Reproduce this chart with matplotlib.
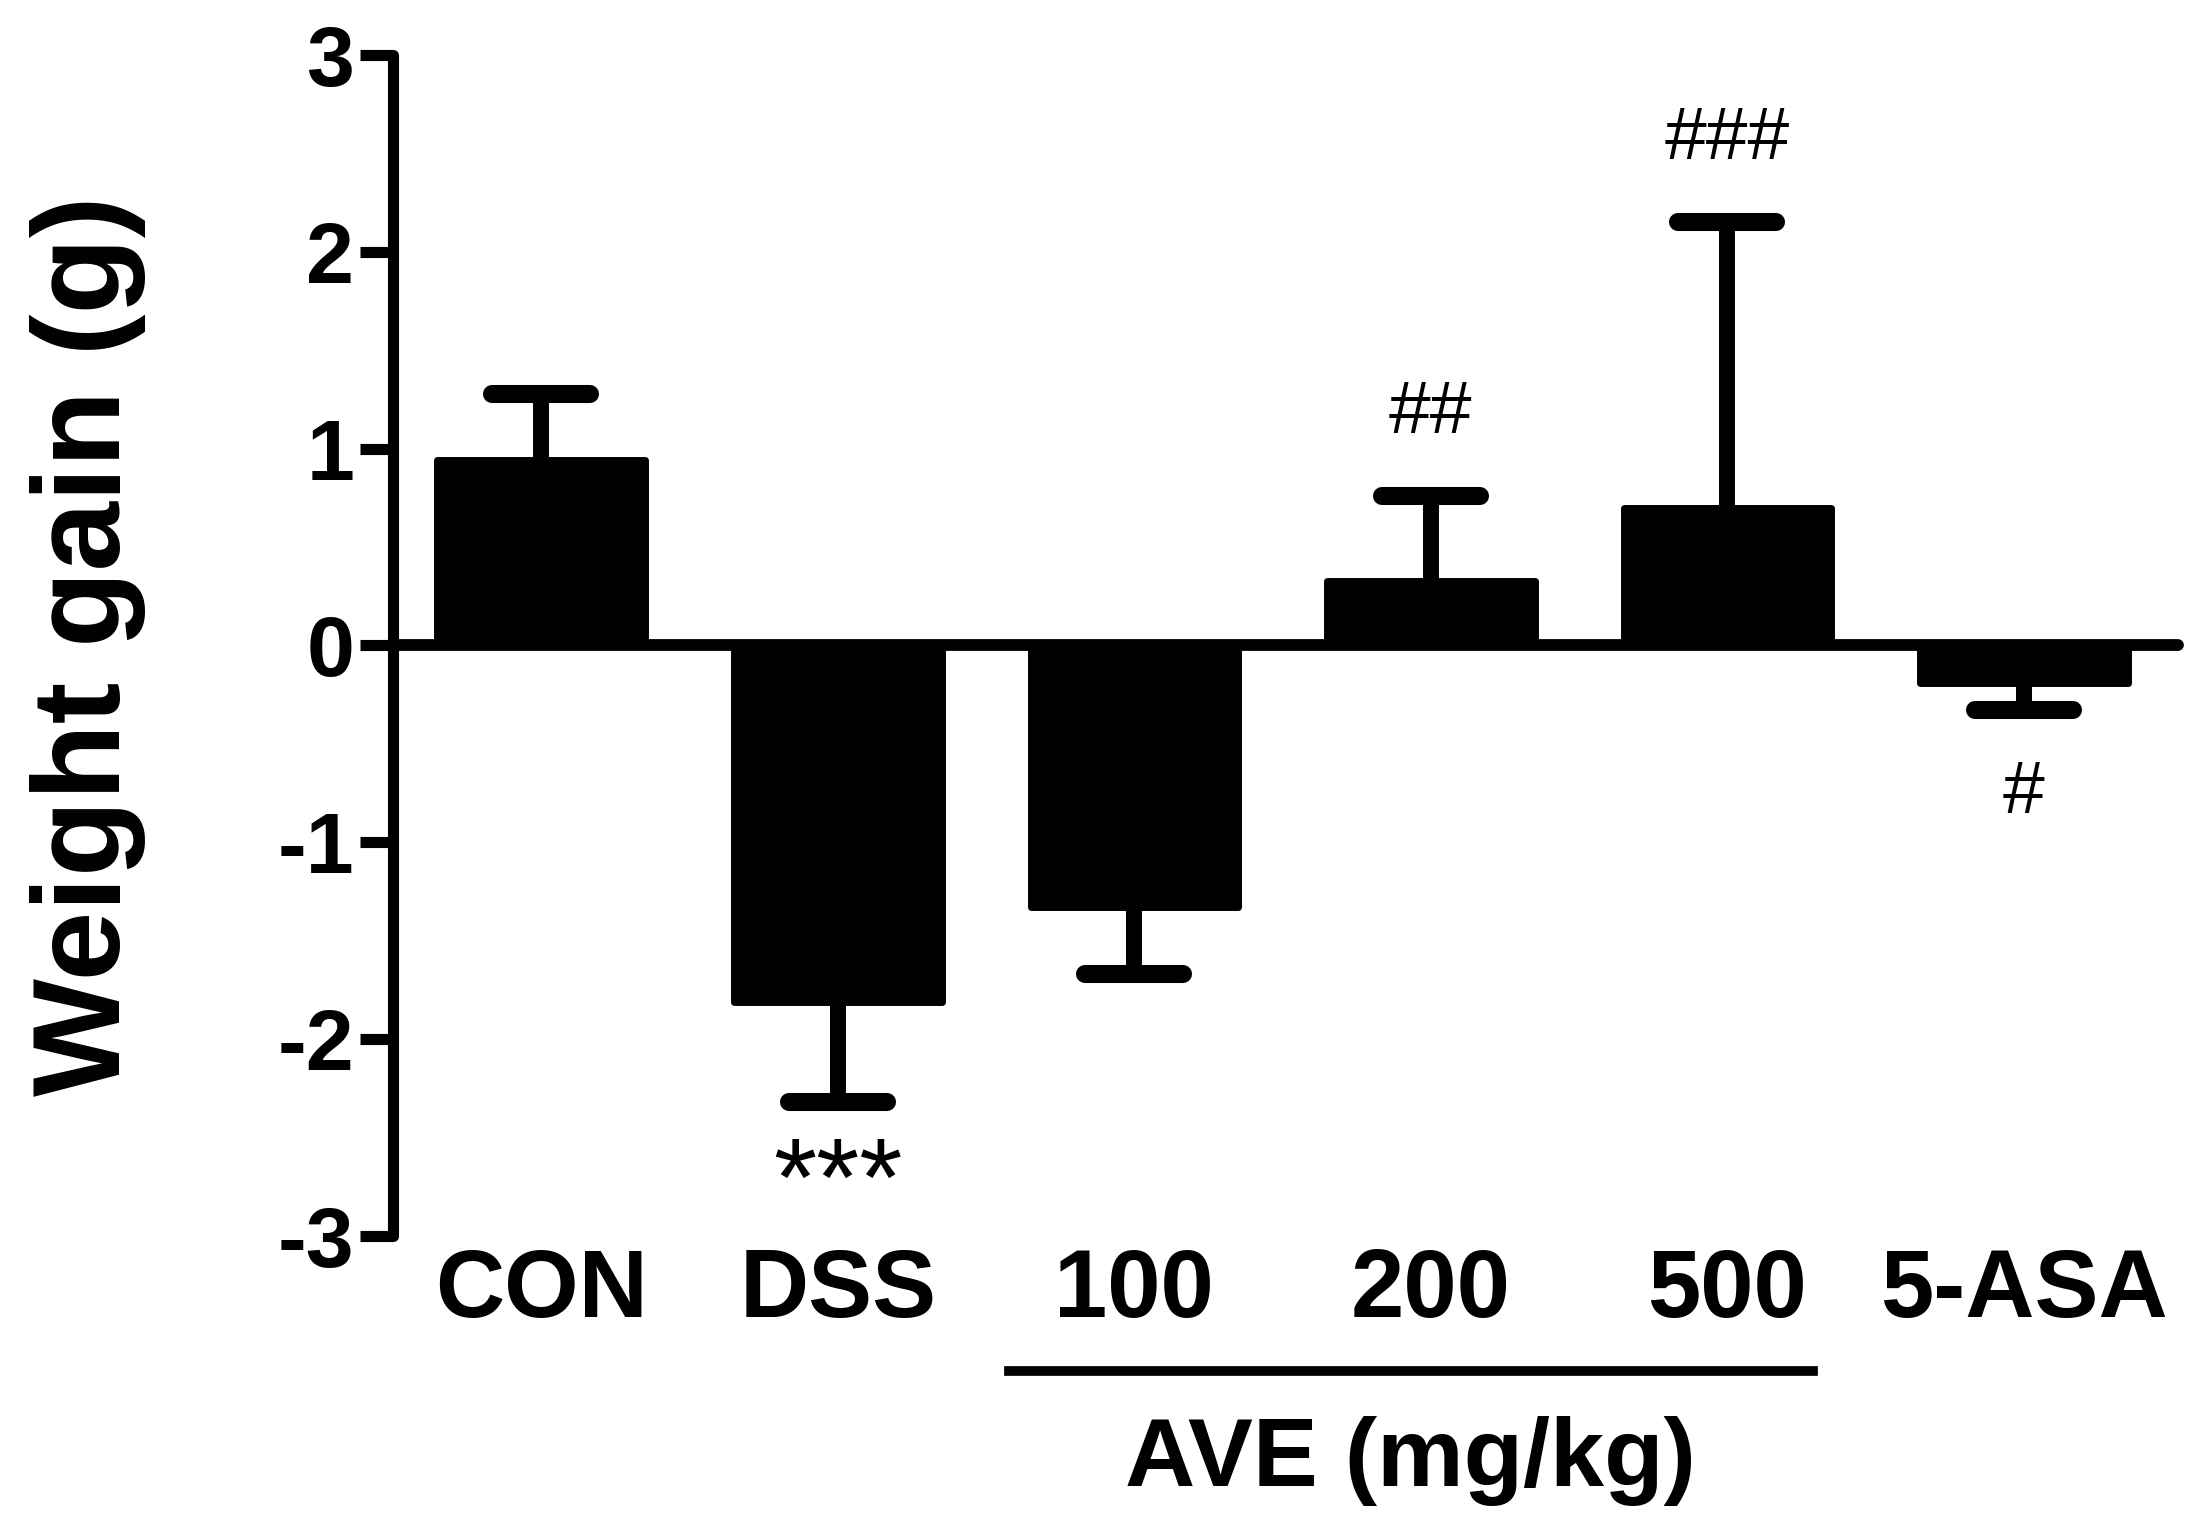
import numpy as np
import matplotlib
matplotlib.use('Agg')
import matplotlib.pyplot as plt
import matplotlib.transforms as mtransforms

groups = ['CON', 'DSS', '100', '200', '500', '5-ASA']       # x tick labels
means = [0.94, -1.81, -1.33, 0.33, 0.70, -0.19]             # weight gain (g)
sems = [0.34, 0.51, 0.34, 0.43, 1.45, 0.14]                 # one-sided error bars
sig = ['', '***', '', '##', '###', '#']                     # significance marks
yticks = [-3, -2, -1, 0, 1, 2, 3]

plt.rcParams['font.family'] = ['Liberation Sans', 'DejaVu Sans']

fig = plt.figure(figsize=(22.08, 15.35), dpi=100)
ax = fig.add_axes([0.178, 0.1948, 0.8084, 0.7694])

x = np.arange(len(groups))
means = np.array(means)
sems = np.array(sems)
direction = np.sign(means)
caps = means + direction * sems

# bars
ax.bar(x, means, width=0.70, color='black', edgecolor='black',
       linewidth=5, joinstyle='round', zorder=3)

# error bars, drawn away from zero only
ax.vlines(x, means, caps, color='black', lw=11.5, zorder=2)
ax.hlines(caps, x - 0.165, x + 0.165, color='black', lw=13,
          capstyle='round', zorder=2)

# zero line
ax.axhline(0, color='black', lw=8.5, solid_capstyle='round', clip_on=False, zorder=4)

# significance marks
for i in range(len(groups)):
    if sig[i] == '':
        continue
    if sig[i].startswith('*'):
        ax.text(x[i], caps[i] - 0.43, sig[i], ha='center', va='center', fontsize=80)
    else:
        ax.text(x[i], caps[i] + direction[i] * 0.42, sig[i],
                ha='center', va='center', fontsize=54)

# axes style
ax.set_xlim(-0.5, 5.52)
ax.set_ylim(-3, 3)
ax.set_yticks(yticks)
ax.set_yticklabels([str(t) for t in yticks], fontsize=62, fontweight='bold')
ax.set_xticks(x)
ax.set_xticklabels(groups, fontsize=69, fontweight='bold')
ax.tick_params(axis='x', length=0, pad=8)
ax.tick_params(axis='y', length=24, width=8, pad=4)
for s in ['top', 'right', 'bottom']:
    ax.spines[s].set_visible(False)
ax.spines['left'].set_linewidth(8)
ax.spines['left'].set_capstyle('round')

# AVE dose group bracket
trans = mtransforms.blended_transform_factory(ax.transData, ax.transAxes)
ax.plot([1.578, 4.29], [-0.1139, -0.1139], color='black', lw=7,
        transform=trans, clip_on=False)
ax.text(2.93, -0.212, 'AVE (mg/kg)', transform=trans, ha='center',
        va='baseline', fontsize=70, fontweight='bold')

fig.text(88 / 2208, 0.5795, 'Weight gain (g)', rotation=90, ha='center',
         va='center', fontsize=90, fontweight='bold')

fig.savefig('out.png', dpi=100)
